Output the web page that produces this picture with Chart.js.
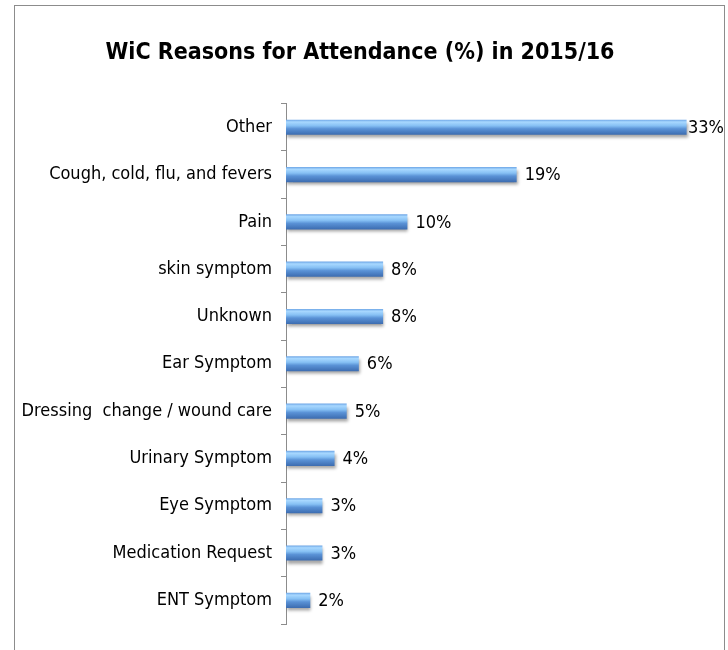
<!DOCTYPE html>
<html>
<head>
<meta charset="utf-8">
<script src="https://cdn.jsdelivr.net/npm/chart.js@4"></script>
<style>
  body { margin: 0; background: #fff; }
  #wrap { width: 728px; height: 650px; }
</style>
</head>
<body>
<div id="wrap"><canvas id="myChart" width="728" height="650"></canvas></div>
<script>
// Reasons for attendance, 2015/16 (percent)
const categories = ['Other', 'Cough, cold, flu, and fevers', 'Pain', 'skin symptom', 'Unknown',
    'Ear Symptom', 'Dressing  change / wound care', 'Urinary Symptom', 'Eye Symptom',
    'Medication Request', 'ENT Symptom'];
const percentValues = [33, 19, 10, 8, 8, 6, 5, 4, 3, 3, 2];
const valueLabels = ['33%', '19%', '10%', '8%', '8%', '6%', '5%', '4%', '3%', '3%', '2%'];

const FONT = '"DejaVu Sans Condensed", "Liberation Sans Narrow", "Liberation Sans", sans-serif';
const BAR_H = 15;

// gray frame round the whole chart
const framePlugin = {
    id: 'frame',
    beforeDraw(chart) {
        const c = chart.ctx;
        c.save();
        c.strokeStyle = '#8c8c8c';
        c.lineWidth = 1;
        c.strokeRect(14.5, 5.5, 710, 700);
        c.restore();
    }
};

// soft shadow under the bars
const shadowPlugin = {
    id: 'barShadow',
    beforeDatasetsDraw(chart) {
        const c = chart.ctx;
        c.save();
        c.shadowColor = 'rgba(0,0,0,0.35)';
        c.shadowOffsetX = 1;
        c.shadowOffsetY = 3;
        c.shadowBlur = 3;
    },
    afterDatasetsDraw(chart) {
        chart.ctx.restore();
    }
};

// value labels at the end of every bar
const labelPlugin = {
    id: 'valueLabels',
    afterDatasetsDraw(chart) {
        const c = chart.ctx;
        const meta = chart.getDatasetMeta(0);
        c.save();
        c.font = '18px ' + FONT;
        c.fillStyle = '#000';
        c.textAlign = 'left';
        c.textBaseline = 'middle';
        meta.data.forEach((bar, i) => {
            const w = c.measureText(valueLabels[i]).width;
            const x = Math.min(bar.x + 8, 724 - w);
            c.fillText(valueLabels[i], x, bar.y + 1);
        });
        c.restore();
    }
};

function barGradient(context) {
    const chart = context.chart;
    const yScale = chart.scales.y;
    if (!yScale || context.dataIndex === undefined) return '#6fa6e0';
    const yc = yScale.getPixelForValue(context.dataIndex);
    if (!isFinite(yc)) return '#6fa6e0';
    const g = chart.ctx.createLinearGradient(0, yc - BAR_H / 2, 0, yc + BAR_H / 2);
    g.addColorStop(0, '#6ea6e6');
    g.addColorStop(0.15, '#a8d8ff');
    g.addColorStop(0.4, '#86c0f4');
    g.addColorStop(0.6, '#5a92d6');
    g.addColorStop(1, '#3c6cb0');
    return g;
}

const ctx = document.getElementById('myChart');

new Chart(ctx, {
    type: 'bar',
    data: {
        labels: categories,
        datasets: [{
            data: percentValues,
            backgroundColor: barGradient,
            borderWidth: 0,
            barPercentage: 0.32,
            categoryPercentage: 1.0
        }]
    },
    options: {
        indexAxis: 'y',
        responsive: false,
        animation: false,
        layout: { padding: { left: 0, right: 8, top: 0, bottom: 26 } },
        plugins: {
            legend: { display: false },
            tooltip: { enabled: false },
            title: {
                display: true,
                text: 'WiC Reasons for Attendance (%) in 2015/16',
                color: '#000',
                font: { family: FONT, size: 23, weight: 'bold' },
                padding: { top: 39, bottom: 37 }
            }
        },
        scales: {
            x: {
                display: false,
                min: 0,
                max: 35.75
            },
            y: {
                afterFit(scale) { scale.width = 286; },
                border: { display: true, color: '#8c8c8c', width: 1 },
                grid: {
                    offset: true,
                    drawOnChartArea: false,
                    drawTicks: true,
                    tickLength: 5,
                    color: '#8c8c8c'
                },
                ticks: {
                    color: '#000',
                    padding: 9,
                    font: { family: FONT, size: 18 }
                }
            }
        }
    },
    plugins: [framePlugin, shadowPlugin, labelPlugin]
});
</script>
</body>
</html>
